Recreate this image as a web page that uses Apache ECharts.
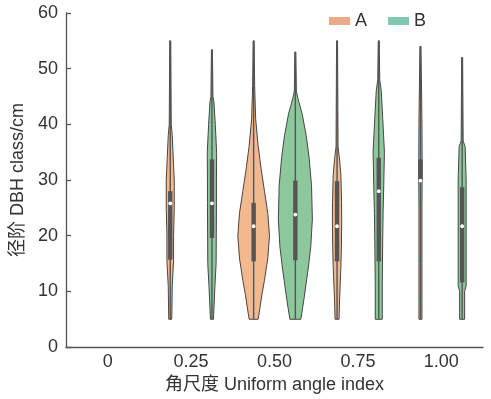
<!DOCTYPE html>
<html><head><meta charset="utf-8">
<script src="https://cdn.jsdelivr.net/npm/echarts@6/dist/echarts.min.js"></script>
<style>html,body{margin:0;padding:0;background:#fff}#c{width:491px;height:399px}</style>
</head><body><div id="c"></div>
<script>
// Categories (uniform angle index) and y ticks
const categories = ['0', '0.25', '0.50', '0.75', '1.00'];
const yTicks = [0, 10, 20, 30, 40, 50, 60];
// Category indices that carry violins
const groupIndex = [1, 2, 3, 4];

// Violin outlines: [DBH value, relative half-density (% of category band)]
const profileA_025 = [[55,0.6],[40,1.2],[38,2.4],[34,3.6],[30,4.8],[25,4.8],[20,4],[15.5,4],[11,2.4],[5,1.8]];
const profileA_050 = [[55,0.6],[47,1.2],[41,2.4],[36,5.5],[32,9],[28,13],[24,17],[20,19],[16,17],[12,13],[9.5,10],[7,7.5],[5,5.4]];
const profileA_075 = [[55,0.6],[36,1.2],[34,2.8],[31,4.6],[26,5.4],[22.6,5.6],[18,5.2],[14.3,4.6],[8.3,3],[5,2.4]];
const profileA_100 = [[54,0.6],[44,1.5],[40,1.8],[34,2],[30,2],[25,1.8],[15,1.8],[8,1.8],[5,1.8]];
const profileB_025 = [[53.4,0.6],[45,1.2],[44,2.4],[40,4],[35,5.6],[30,5.4],[26,5.4],[20,5.2],[15,5],[11,3.6],[5,1.8]];
const profileB_050 = [[53,0.6],[46,1.2],[44.7,3],[42,8],[38,13],[34,16.5],[29,19.4],[23,20.4],[18,18.5],[14,15.3],[8.3,10],[5,6.6]];
const profileB_075 = [[55,0.6],[48,1.2],[46,3],[41,4.8],[35,6.8],[29,6],[24,5.2],[20,4.8],[11,4.2],[5,4.2]];
const profileB_100 = [[52,0.6],[37,1.2],[36,3.6],[30,4.8],[20,4.8],[11,4.8],[10,3],[5,3]];

// Inner box stats: [whisker low, Q1, median, Q3, whisker high]
const statsA = [[5,15.7,25.8,28,55],[5,15.4,21.7,25.9,55],[5,15.4,21.7,29.8,55],[5,29.8,29.9,33.7,54]];
const statsB = [[5,19.6,25.8,33.7,53.4],[5,15.6,23.8,29.9,53],[5,15.4,28,34,55],[5,11.6,21.7,28.7,52]];

const profilesA = [profileA_025, profileA_050, profileA_075, profileA_100];
const profilesB = [profileB_025, profileB_050, profileB_075, profileB_100];

const fillA = '#F2B88E', fillB = '#8DC79C';
const legendA = '#EBAA87', legendB = '#7DC8AF';

function makeRender(profiles, stats, side, fill) {
  return function (params, api) {
    const i = params.dataIndex;
    const ci = api.value(0);
    const bw = api.size([1, 0])[0];
    const cx = api.coord([ci, 0])[0] + side * 0.25 * bw;
    const prof = profiles[i];
    const left = prof.map(p => [cx - p[1] / 100 * bw, api.coord([ci, p[0]])[1]]);
    const right = prof.slice().reverse().map(p => [cx + p[1] / 100 * bw, api.coord([ci, p[0]])[1]]);
    const s = stats[i];
    const y = v => api.coord([ci, v])[1];
    return {
      type: 'group',
      children: [
        { type: 'polygon', shape: { points: left.concat(right) },
          style: { fill: fill, stroke: '#454545', lineWidth: 1 } },
        { type: 'line', shape: { x1: cx, y1: y(s[0]), x2: cx, y2: y(s[4]) },
          style: { stroke: '#555555', lineWidth: 1.4 } },
        { type: 'line', shape: { x1: cx, y1: y(s[1]), x2: cx, y2: y(s[3]) },
          style: { stroke: '#555555', lineWidth: 4.4 } },
        { type: 'circle', shape: { cx: cx, cy: y(s[2]), r: 1.9 },
          style: { fill: '#ffffff' } }
      ]
    };
  };
}

const chart = echarts.init(document.getElementById('c'), null, { renderer: 'canvas' });
const font = 'Liberation Sans, Arial, Noto Sans CJK SC, sans-serif';
chart.setOption({
  animation: false,
  grid: { left: 66, right: 8, top: 13, bottom: 51.3 },
  legend: {
    left: 329, top: 12, padding: 0, itemWidth: 21, itemHeight: 8, itemGap: 21, icon: 'rect',
    textStyle: { fontSize: 18, color: '#333', fontFamily: font },
    data: [{ name: 'A', itemStyle: { color: legendA } }, { name: 'B', itemStyle: { color: legendB } }]
  },
  xAxis: {
    type: 'category', data: categories, boundaryGap: true,
    name: '角尺度 Uniform angle index', nameLocation: 'middle', nameGap: 28,
    nameTextStyle: { fontSize: 18, color: '#333', fontFamily: font },
    axisLine: { lineStyle: { color: '#555', width: 1.3 } },
    axisTick: { alignWithLabel: true, inside: true, length: 4, lineStyle: { color: '#555', width: 1.3 } },
    axisLabel: { fontSize: 18, color: '#333', margin: 6, fontFamily: font },
    splitLine: { show: false }
  },
  yAxis: {
    type: 'value', min: yTicks[0], max: yTicks[yTicks.length - 1], interval: 10,
    name: '径阶 DBH class/cm', nameLocation: 'middle', nameGap: 37,
    nameTextStyle: { fontSize: 18, color: '#333', fontFamily: font },
    axisLine: { show: true, lineStyle: { color: '#555', width: 1.3 } },
    axisTick: { show: true, inside: true, length: 5, lineStyle: { color: '#555', width: 1.3 } },
    axisLabel: { fontSize: 18, color: '#333', margin: 8, fontFamily: font },
    splitLine: { show: false }
  },
  series: [
    { name: 'A', type: 'custom', itemStyle: { color: legendA },
      renderItem: makeRender(profilesA, statsA, -1, fillA),
      encode: { x: 0, y: [1, 2] },
      data: groupIndex.map((g, k) => [g, statsA[k][0], statsA[k][4]]) },
    { name: 'B', type: 'custom', itemStyle: { color: legendB },
      renderItem: makeRender(profilesB, statsB, 1, fillB),
      encode: { x: 0, y: [1, 2] },
      data: groupIndex.map((g, k) => [g, statsB[k][0], statsB[k][4]]) }
  ]
});
</script></body></html>
